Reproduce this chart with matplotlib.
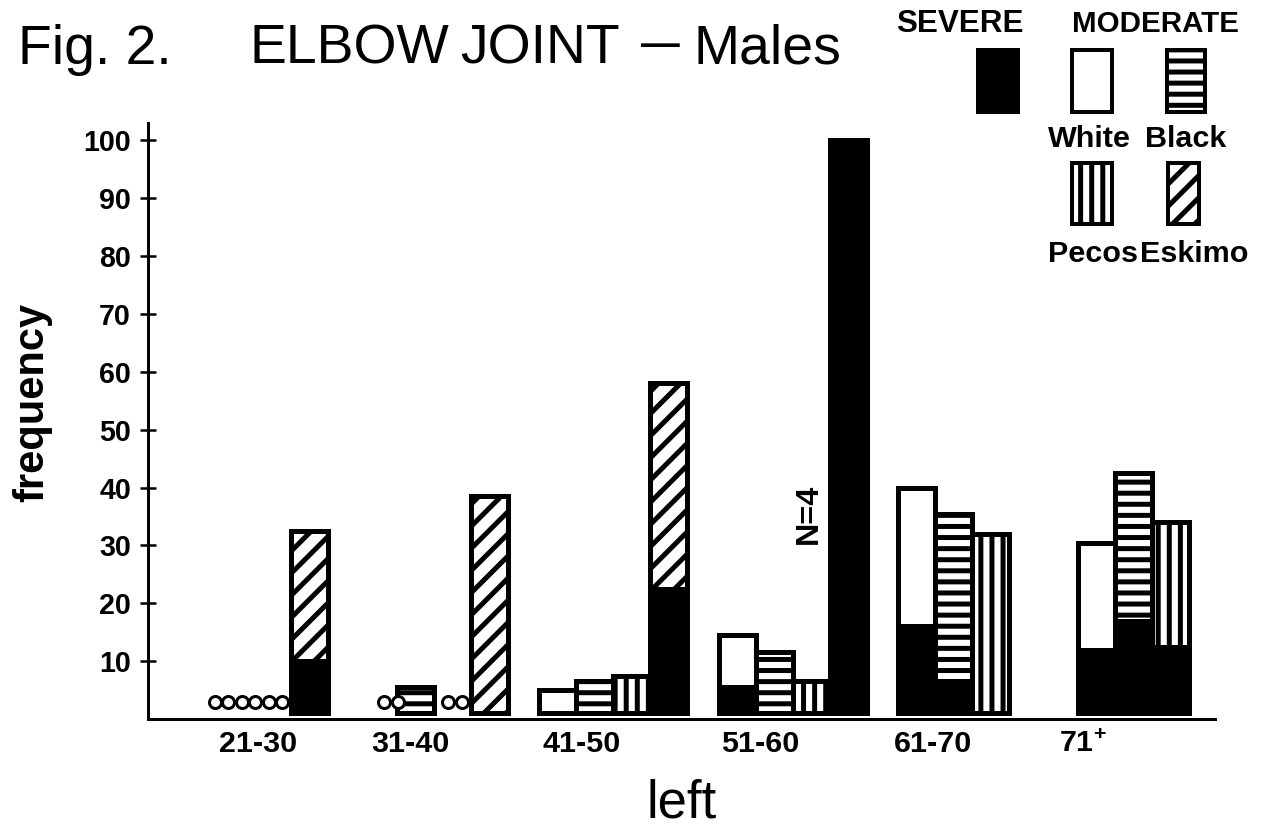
import matplotlib
matplotlib.use("Agg")
import matplotlib.pyplot as plt
from matplotlib.patches import Rectangle

# ---------------- data ----------------
age_groups = ["21-30", "31-40", "41-50", "51-60", "61-70", "71+"]
tick_labels = ["21-30", "31-40", "41-50", "51-60", "61-70", r"$\mathbf{71^{+}}$"]
series = ["White", "Black", "Pecos", "Eskimo"]

# total frequency (severe + moderate); None = no data, 0 = zero (drawn as circles)
white_total = [0, 0, 5, 14.5, 40, 30.5]
white_severe = [0, 0, 0, 5.5, 16, 12]
black_total = [0, 5.5, 6.5, 11.5, 35.5, 42.5]
black_severe = [0, 0, 0, 0, 6.5, 17]
pecos_total = [0, 0, 7.5, 6.5, 32, 34]
pecos_severe = [0, 0, 0, 0, 0, 12.5]
eskimo_total = [32.5, 38.5, 58, 100, None, None]
eskimo_severe = [10, 0, 22.5, 100, None, None]

yticks = [10, 20, 30, 40, 50, 60, 70, 80, 90, 100]
annotation = "N=4"

totals = {"White": white_total, "Black": black_total, "Pecos": pecos_total, "Eskimo": eskimo_total}
severes = {"White": white_severe, "Black": black_severe, "Pecos": pecos_severe, "Eskimo": eskimo_severe}
hatches = {"White": "", "Black": "--", "Pecos": "||", "Eskimo": "//"}

# ---------------- style / layout ----------------
DPI = 133
W, H = 1266, 829
plt.rcParams["font.family"] = ["Liberation Sans", "DejaVu Sans"]
plt.rcParams["hatch.linewidth"] = 2.7
plt.rcParams["mathtext.fontset"] = "custom"
plt.rcParams["mathtext.bf"] = "Liberation Sans:bold"
plt.rcParams["mathtext.rm"] = "Liberation Sans"

PT = 72.0 / DPI           # points per pixel
EDGE_LW = 5 * PT
BASE = 1.0                # bars sit just above the axis line
GROUP_X0 = 180
GROUP_STEP = 179.6
BAR_W = 37
LABEL_X = [258, 410, 582, 760, 933, 1083]


def fxy(x, y):
    return x / W, 1 - y / H


fig = plt.figure(figsize=(W / DPI, H / DPI), dpi=DPI)
fig.patch.set_facecolor("white")
ax = fig.add_axes([148 / W, (H - 719) / H, (1215 - 148) / W, (719 - 123) / H])
ax.set_xlim(148, 1215)
ax.set_ylim(0, 103)

for gi, grp in enumerate(age_groups):
    for si, name in enumerate(series):
        tot = totals[name][gi]
        sev = severes[name][gi]
        x0 = GROUP_X0 + gi * GROUP_STEP + si * BAR_W
        if tot is None:
            continue
        if tot == 0:
            # zero frequency: a pair of small open circles, packed towards the next bar
            zeros_right = sum(1 for s2 in series[si + 1:] if totals[s2][gi] == 0)
            cx = x0 + BAR_W / 2 + 3 + 10 * zeros_right
            ax.plot([cx - 6.8, cx + 6.8], [3, 3], linestyle="none", marker="o",
                    markersize=12 * PT, markerfacecolor="white",
                    markeredgecolor="black", markeredgewidth=3 * PT, zorder=3)
            continue
        if sev > 0:
            ax.bar(x0, sev - BASE, bottom=BASE, width=BAR_W, align="edge",
                   facecolor="black", edgecolor="black", linewidth=EDGE_LW, zorder=2)
        lo = max(sev, BASE)
        if tot > lo:
            ax.bar(x0, tot - lo, bottom=lo, width=BAR_W, align="edge",
                   facecolor="white", edgecolor="black", hatch=hatches[name],
                   linewidth=EDGE_LW, zorder=2)

# N=4 annotation next to the 51-60 Eskimo bar
ax.text(GROUP_X0 + 3 * GROUP_STEP + 3 * BAR_W - 21, 35.5, annotation, rotation=90,
        ha="center", va="center", fontsize=17.5, fontweight="bold")

# axes styling
for s in ["top", "right"]:
    ax.spines[s].set_visible(False)
for s in ["left", "bottom"]:
    ax.spines[s].set_linewidth(3 * PT)
ax.set_yticks(yticks)
ax.set_yticklabels([str(v) for v in yticks], fontsize=15.5, fontweight="bold")
ax.tick_params(axis="y", direction="inout", length=16 * PT, width=2.5 * PT, pad=9 * PT)
ax.set_xticks(LABEL_X)
ax.set_xticklabels(tick_labels, fontsize=16.5, fontweight="bold")
ax.tick_params(axis="x", length=0, pad=11 * PT)

# axis titles
fig.text(*fxy(32, 402), "frequency", rotation=90, ha="center", va="center",
         fontsize=22.5, fontweight="bold")
fig.text(*fxy(647, 818), "left", ha="left", va="baseline", fontsize=28.5)

# figure title pieces
for txt, x in [("Fig. 2.", 18), ("ELBOW", 250), ("JOINT", 460), ("Males", 693)]:
    fig.text(*fxy(x, 64), txt, ha="left", va="baseline", fontsize=30)
fig.text(*fxy(660, 56), "\u2014", ha="center", va="baseline", fontsize=21, fontweight="bold")

# legend
fig.text(*fxy(960, 32), "SEVERE", ha="center", va="baseline", fontsize=17, fontweight="bold")
fig.text(*fxy(1155, 32), "MODERATE", ha="center", va="baseline", fontsize=16, fontweight="bold")
legend_boxes = [
    (978, 50, 40, 62, "black", ""),
    (1072, 50, 40, 62, "white", ""),
    (1167, 50, 38, 62, "white", "--"),
    (1072, 163, 40, 61, "white", "||"),
    (1168, 163, 31, 61, "white", "//"),
]
for x, y, w, h, fc, hatch in legend_boxes:
    fig.add_artist(Rectangle(fxy(x, y + h), w / W, h / H, transform=fig.transFigure,
                             facecolor=fc, edgecolor="black", hatch=hatch,
                             linewidth=4 * PT))
for txt, x, y in [("White", 1048, 147), ("Black", 1145, 147),
                  ("Pecos", 1048, 262), ("Eskimo", 1140, 262)]:
    fig.text(*fxy(x, y), txt, ha="left", va="baseline", fontsize=16.5, fontweight="bold")

fig.savefig("out.png", dpi=DPI, facecolor="white")
